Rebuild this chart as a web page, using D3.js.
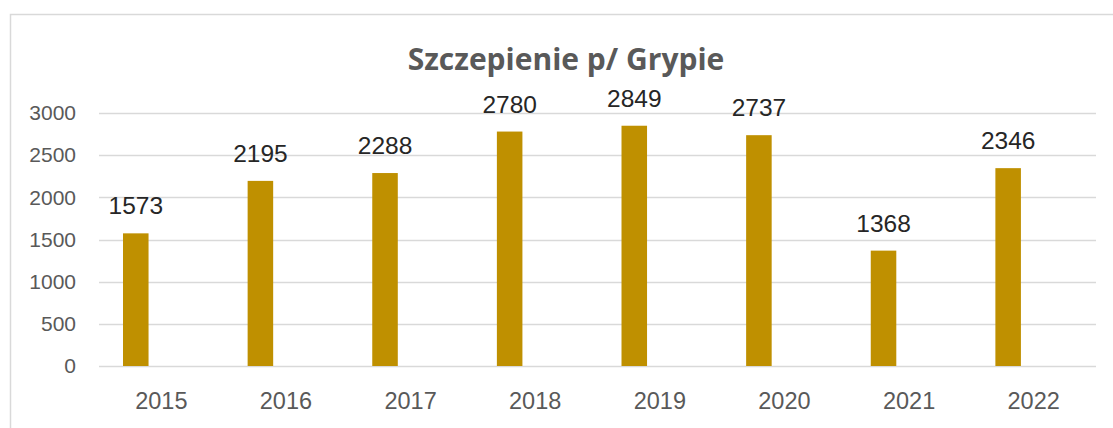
<!DOCTYPE html>
<html>
<head>
<meta charset="utf-8">
<script src="https://cdn.jsdelivr.net/npm/d3@7"></script>
<style>
  html, body { margin: 0; padding: 0; background: #fff; }
  svg { display: block; }
</style>
</head>
<body>
<div id="chart"></div>
<script>
const years = ["2015", "2016", "2017", "2018", "2019", "2020", "2021", "2022"]
const values = [1573, 2195, 2288, 2780, 2849, 2737, 1368, 2346]
const yTicks = [0, 500, 1000, 1500, 2000, 2500, 3000]
// excel zostawil miejsce na 3 serie w grupie, rysowana jest tylko pierwsza
const slots = ["grypa", "pusta1", "pusta2"]

const width = 1113
const height = 428
const plot = { left: 99, right: 1096, top: 113, bottom: 366 }

const svg = d3.select("#chart")
  .append("svg")
  .attr("width", width)
  .attr("height", height)

// ramka wykresu (prawa i dolna krawedz poza kadrem)
svg.append("rect")
  .attr("x", 10.5).attr("y", 14.5)
  .attr("width", width + 20).attr("height", height + 20)
  .attr("fill", "none")
  .attr("stroke", "#d9d9d9")
  .attr("stroke-width", 1.5)

const x = d3.scaleBand()
  .domain(years)
  .range([plot.left, plot.right])

const xSub = d3.scaleBand()
  .domain(slots)
  .range([0, x.bandwidth()])
  .paddingOuter(0.94)

const y = d3.scaleLinear()
  .domain([0, 3000])
  .range([plot.bottom, plot.top])

// linie siatki
svg.append("g")
  .selectAll("line")
  .data(yTicks)
  .enter()
  .append("line")
  .attr("x1", plot.left)
  .attr("x2", plot.right)
  .attr("y1", d => Math.round(y(d)) + 0.5)
  .attr("y2", d => Math.round(y(d)) + 0.5)
  .attr("stroke", "#d9d9d9")
  .attr("stroke-width", 1.5)

// os Y
const yAxis = svg.append("g")
  .attr("transform", `translate(${plot.left - 23},0)`)
  .call(d3.axisLeft(y).tickValues(yTicks).tickFormat(d3.format("d")).tickSize(0).tickPadding(0))
yAxis.select(".domain").remove()
yAxis.selectAll("text")
  .attr("fill", "#595959")
  .style("font-family", "'Liberation Sans', Arial, sans-serif")
  .style("font-size", "21px")

// os X
const xAxis = svg.append("g")
  .attr("transform", `translate(0,${plot.bottom})`)
  .call(d3.axisBottom(x).tickSize(0).tickPadding(26))
xAxis.select(".domain").remove()
xAxis.selectAll("text")
  .attr("fill", "#595959")
  .style("font-family", "'Liberation Sans', Arial, sans-serif")
  .style("font-size", "23.5px")

// slupki
svg.append("g")
  .selectAll("rect")
  .data(years)
  .enter()
  .append("rect")
  .attr("x", (d, i) => x(d) + xSub("grypa"))
  .attr("width", xSub.bandwidth())
  .attr("y", (d, i) => y(values[i]))
  .attr("height", (d, i) => y(0) - y(values[i]))
  .attr("fill", "#bf9000")

// etykiety danych
svg.append("g")
  .selectAll("text")
  .data(years)
  .enter()
  .append("text")
  .attr("x", (d, i) => x(d) + xSub("grypa") + xSub.bandwidth() / 2)
  .attr("y", (d, i) => y(values[i]) - 19)
  .attr("text-anchor", "middle")
  .attr("fill", "#262626")
  .style("font-family", "'Liberation Sans', Arial, sans-serif")
  .style("font-size", "24.5px")
  .text((d, i) => values[i])

// tytul
svg.append("text")
  .attr("x", 566)
  .attr("y", 70)
  .attr("text-anchor", "middle")
  .attr("fill", "#595959")
  .style("font-family", "'Open Sans', sans-serif")
  .style("font-weight", "bold")
  .style("font-size", "30px")
  .text("Szczepienie p/ Grypie")
</script>
</body>
</html>
